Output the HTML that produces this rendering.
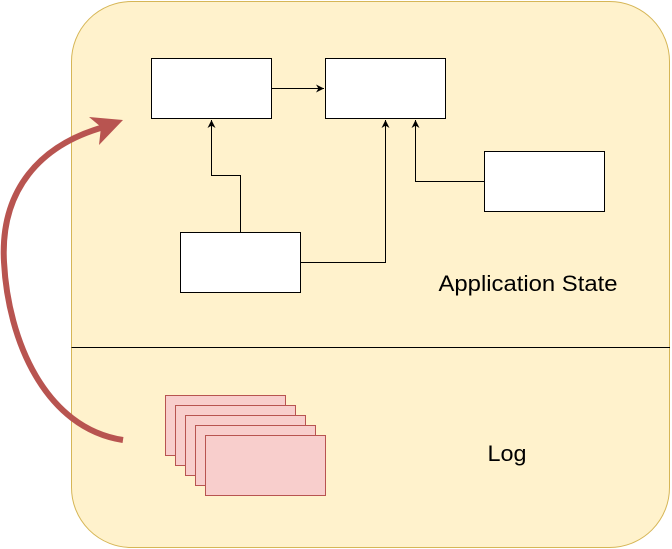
<!DOCTYPE html>
<html><head><meta charset="utf-8"><style>html,body{margin:0;padding:0;background:#fff;}svg{display:block}</style></head>
<body>
<svg width="672" height="549" viewBox="0 0 672 549" xmlns="http://www.w3.org/2000/svg">
<defs>
<marker id="a" viewBox="0 0 10 10" refX="10" refY="5" markerWidth="8" markerHeight="8" markerUnits="userSpaceOnUse" orient="auto">
<path d="M0,0 L10,5 L0,10 L3,5 Z" fill="#000"/>
</marker>
</defs>
<rect x="71.5" y="1.5" width="598" height="546" rx="60" ry="60" fill="#fff2cc" stroke="#d6b656"/>
<line x1="71.5" y1="347.5" x2="670" y2="347.5" stroke="#000"/>
<g fill="#fff" stroke="#000">
<rect x="151.5" y="58.5" width="120" height="60"/>
<rect x="325.5" y="58.5" width="120" height="60"/>
<rect x="484.5" y="151.5" width="120" height="60"/>
<rect x="180.5" y="232.5" width="120" height="60"/>
</g>
<g fill="none" stroke="#000">
<path d="M271.5,88.5 H324" marker-end="url(#a)"/>
<path d="M240.5,232 V175.5 H211.5 V120" marker-end="url(#a)"/>
<path d="M300.5,262.5 H385.5 V120" marker-end="url(#a)"/>
<path d="M484,181.5 H415.5 V120" marker-end="url(#a)"/>
</g>
<g fill="#f8cecc" stroke="#b85450">
<rect x="165.5" y="395.5" width="120" height="60"/>
<rect x="175.5" y="405.5" width="120" height="60"/>
<rect x="185.5" y="415.5" width="120" height="60"/>
<rect x="195.5" y="425.5" width="120" height="60"/>
<rect x="205.5" y="435.5" width="120" height="60"/>
</g>
<path d="M123,440 C45,428 8,340 4,262 C0,190 40,145 104,127" fill="none" stroke="#b85450" stroke-width="6"/>
<path d="M123,120 L89,117 L101,127 L99,145 Z" fill="#b85450"/>
<g font-family="Liberation Sans, sans-serif" font-size="22" fill="#000" text-anchor="middle">
<text x="528" y="291" textLength="179" lengthAdjust="spacingAndGlyphs">Application State</text>
<text x="507" y="461" textLength="39" lengthAdjust="spacingAndGlyphs">Log</text>
</g>
</svg>
</body></html>
